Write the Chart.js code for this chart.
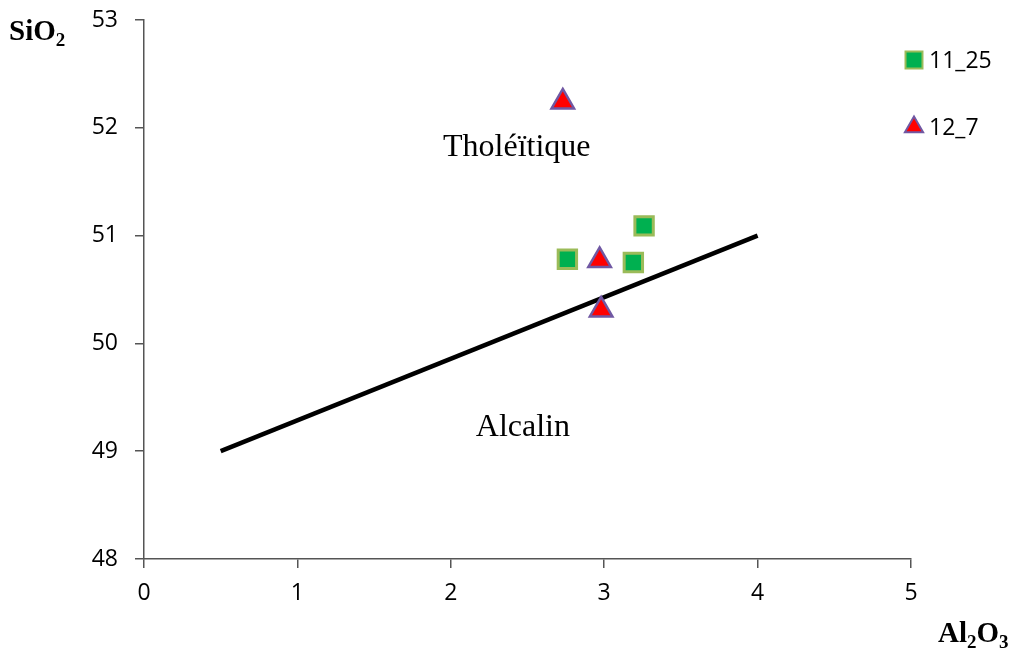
<!DOCTYPE html>
<html>
<head>
<meta charset="utf-8">
<script src="https://cdn.jsdelivr.net/npm/chart.js@4.4.0/dist/chart.umd.min.js"></script>
<style>
  html, body { margin: 0; padding: 0; background: #fff; }
  #wrap { width: 1019px; height: 655px; }
</style>
</head>
<body>
<div id="wrap"><canvas id="chart" width="1019" height="655"></canvas></div>
<script>
// data
const xTicks = [0, 1, 2, 3, 4, 5];
const yTicks = [48, 49, 50, 51, 52, 53];

const al_11_25 = [2.76, 3.19, 3.26];
const si_11_25 = [50.78, 50.75, 51.09];

const al_12_7 = [2.73, 2.97, 2.98];
const si_12_7 = [52.24, 50.77, 50.31];

// tholeiitic / alkaline boundary
const lineAl = [0.5, 4];
const lineSi = [49, 51];

const fieldNames = ['Tholéïtique', 'Alcalin'];
const fieldAl = [2.43, 2.47];
const fieldSi = [51.74, 49.14];

const toPts = (xs, ys) => xs.map((x, i) => ({ x: x, y: ys[i] }));

// text drawn on top: axis titles with subscripts, field names, legend
const overlay = {
    id: 'overlay',
    afterDraw(chart) {
        const ctx = chart.ctx;
        const xs = chart.scales.x, ys = chart.scales.y;
        ctx.save();
        ctx.fillStyle = '#000';

        // field names
        ctx.font = '32px "Liberation Serif"';
        ctx.textAlign = 'center';
        ctx.textBaseline = 'alphabetic';
        fieldNames.forEach((t, i) => {
            ctx.fillText(t, xs.getPixelForValue(fieldAl[i]), ys.getPixelForValue(fieldSi[i]));
        });

        // axis titles
        function subText(parts, x, y) {
            ctx.textAlign = 'left';
            ctx.textBaseline = 'alphabetic';
            parts.forEach(p => {
                ctx.font = p.sub ? 'bold 19px "Liberation Serif"' : 'bold 29px "Liberation Serif"';
                ctx.fillText(p.t, x, y + (p.sub ? 6 : 0));
                x += ctx.measureText(p.t).width;
            });
        }
        subText([{ t: 'SiO' }, { t: '2', sub: true }], 9, 40);
        subText([{ t: 'Al' }, { t: '2', sub: true }, { t: 'O' }, { t: '3', sub: true }], 938, 642);

        // legend
        const items = [
            { ds: chart.data.datasets[0], y: 60 },
            { ds: chart.data.datasets[1], y: 127 }
        ];
        items.forEach(it => {
            ctx.fillStyle = it.ds.backgroundColor;
            ctx.strokeStyle = it.ds.borderColor;
            ctx.lineWidth = 2;
            Chart.helpers.drawPoint(ctx, {
                pointStyle: it.ds.pointStyle,
                radius: it.ds.pointStyle === 'rect' ? 12 : 10.5,
                rotation: 0,
                borderWidth: 2
            }, 914, it.y);
            ctx.fillStyle = '#000';
            ctx.font = '23px "Open Sans"';
            ctx.textAlign = 'left';
            ctx.textBaseline = 'middle';
            ctx.fillText(it.ds.label, 929, it.y + 1);
        });
        ctx.restore();
    }
};

const axisColor = '#555555';

new Chart(document.getElementById('chart'), {
    type: 'scatter',
    data: {
        datasets: [
            {
                label: '11_25',
                data: toPts(al_11_25, si_11_25),
                pointStyle: 'rect',
                pointRadius: 13,
                pointHoverRadius: 13,
                backgroundColor: '#00b050',
                borderColor: '#9bbb59',
                borderWidth: 3
            },
            {
                label: '12_7',
                data: toPts(al_12_7, si_12_7),
                pointStyle: 'triangle',
                pointRadius: 13,
                pointHoverRadius: 13,
                backgroundColor: '#ff0000',
                borderColor: '#7058a3',
                borderWidth: 2.5
            },
            {
                label: 'limite',
                type: 'line',
                data: toPts(lineAl, lineSi),
                borderColor: '#000',
                borderWidth: 4.5,
                pointRadius: 0,
                fill: false,
                order: 5
            }
        ]
    },
    options: {
        responsive: false,
        animation: false,
        layout: { padding: { top: 20, right: 108, left: 0, bottom: 0 } },
        plugins: {
            legend: { display: false },
            tooltip: { enabled: false }
        },
        scales: {
            x: {
                type: 'linear',
                min: xTicks[0],
                max: xTicks[xTicks.length - 1],
                afterBuildTicks: s => { s.ticks = xTicks.map(v => ({ value: v })); },
                afterFit: s => { s.height = 96; s.paddingLeft = 0; s.paddingRight = 0; },
                border: { display: true, color: axisColor, width: 1.5 },
                grid: { display: true, drawOnChartArea: false, drawTicks: true, tickLength: 9, color: axisColor, lineWidth: 1.5 },
                ticks: { color: '#000', padding: 12, font: { family: 'Open Sans', size: 23 } }
            },
            y: {
                type: 'linear',
                min: yTicks[0],
                max: yTicks[yTicks.length - 1],
                afterBuildTicks: s => { s.ticks = yTicks.map(v => ({ value: v })); },
                afterFit: s => { s.width = 144; s.paddingTop = 0; s.paddingBottom = 0; },
                border: { display: true, color: axisColor, width: 1.5 },
                grid: { display: true, drawOnChartArea: false, drawTicks: true, tickLength: 9, color: axisColor, lineWidth: 1.5 },
                ticks: { color: '#000', padding: 17, font: { family: 'Open Sans', size: 23 } }
            }
        }
    },
    plugins: [overlay]
});
</script>
</body>
</html>
